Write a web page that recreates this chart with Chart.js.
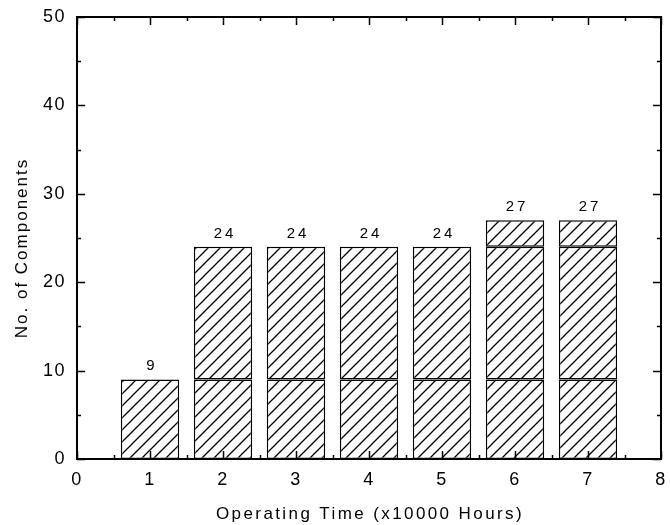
<!DOCTYPE html>
<html>
<head>
<meta charset="utf-8">
<script src="https://cdn.jsdelivr.net/npm/chart.js@4/dist/chart.umd.min.js"></script>
<style>
  html, body { margin: 0; padding: 0; background: #fff; }
  #wrap { width: 670px; height: 525px; }
</style>
</head>
<body>
<div id="wrap"><canvas id="myChart"></canvas></div>
<script>
// operating time (x10000 h) and component counts per stack segment
const times = [1, 2, 3, 4, 5, 6, 7];
const lowerPart = [9, 9, 9, 9, 9, 9, 9];
const middlePart = [null, 15, 15, 15, 15, 15, 15];
const upperPart = [null, null, null, null, null, 3, 3];
const totals = [9, 24, 24, 24, 24, 27, 27];

const xTitle = "Operating Time (x10000 Hours)";
const yTitle = "No. of Components";
const FONT = "'Liberation Sans', Arial, sans-serif";

// diagonal hatch fill
function makeHatch() {
  const size = 12;
  const c = document.createElement("canvas");
  c.width = size;
  c.height = size;
  const g = c.getContext("2d");
  g.fillStyle = "#fff";
  g.fillRect(0, 0, size, size);
  g.strokeStyle = "#000";
  g.lineWidth = 1.3;
  g.beginPath();
  g.moveTo(-2, size + 2);
  g.lineTo(size + 2, -2);
  g.moveTo(-2, 2);
  g.lineTo(2, -2);
  g.moveTo(size - 2, size + 2);
  g.lineTo(size + 2, size - 2);
  g.stroke();
  return g.createPattern(c, "repeat");
}
const hatch = makeHatch();

function toPoints(values) {
  return times.map((t, i) => ({ x: t, y: values[i] }));
}

function segment(values) {
  return {
    data: toPoints(values),
    backgroundColor: hatch,
    borderColor: "#000",
    borderWidth: 1.5,
    borderSkipped: false,
    barPercentage: 0.8,
    categoryPercentage: 1.0,
  };
}

// slightly spaced-out lettering like the original plot
const spacing = {
  id: "spacing",
  beforeDraw(chart) {
    chart.ctx.letterSpacing = "1.5px";
  },
};

// frame, inward ticks, totals and axis titles
const decorations = {
  id: "decorations",
  afterDraw(chart) {
    const ctx = chart.ctx;
    const a = chart.chartArea;
    const xs = chart.scales.x;
    const ys = chart.scales.y;
    ctx.save();
    ctx.strokeStyle = "#000";
    ctx.lineWidth = 2;
    ctx.strokeRect(a.left, a.top, a.right - a.left, a.bottom - a.top);

    ctx.lineWidth = 1.5;
    ctx.beginPath();
    for (let v = 0; v <= 8; v += 0.5) {
      const px = Math.round(xs.getPixelForValue(v)) + 0.5;
      const len = v % 1 === 0 ? 8 : 4;
      ctx.moveTo(px, a.bottom);
      ctx.lineTo(px, a.bottom - len);
      ctx.moveTo(px, a.top);
      ctx.lineTo(px, a.top + len);
    }
    for (let v = 0; v <= 50; v += 5) {
      const py = Math.round(ys.getPixelForValue(v)) + 0.5;
      const len = v % 10 === 0 ? 8 : 4;
      ctx.moveTo(a.left, py);
      ctx.lineTo(a.left + len, py);
      ctx.moveTo(a.right, py);
      ctx.lineTo(a.right - len, py);
    }
    ctx.stroke();

    ctx.fillStyle = "#000";
    ctx.textAlign = "center";
    ctx.textBaseline = "alphabetic";
    ctx.font = "15px " + FONT;
    ctx.letterSpacing = "3px";
    times.forEach((t, i) => {
      ctx.fillText(String(totals[i]), xs.getPixelForValue(t) + 2, ys.getPixelForValue(totals[i]) - 9);
    });

    ctx.font = "17px " + FONT;
    ctx.letterSpacing = "2.4px";
    ctx.fillText(xTitle, (a.left + a.right) / 2 + 1, 519);

    ctx.letterSpacing = "2px";
    ctx.translate(22, 248);
    ctx.rotate(-Math.PI / 2);
    ctx.textBaseline = "middle";
    ctx.fillText(yTitle, 0, 0);
    ctx.restore();
    ctx.letterSpacing = "0px";
  },
};

const context = document.getElementById("myChart").getContext("2d");
const config = {
  type: "bar",
  data: {
    datasets: [segment(lowerPart), segment(middlePart), segment(upperPart)],
  },
  options: {
    responsive: true,
    maintainAspectRatio: false,
    animation: false,
    layout: { padding: { left: 0, right: 9, top: 17, bottom: 0 } },
    plugins: {
      legend: { display: false },
      tooltip: { enabled: false },
    },
    scales: {
      x: {
        type: "linear",
        stacked: true,
        min: 0,
        max: 8,
        offset: false,
        grid: { display: false, drawTicks: false },
        border: { display: false },
        ticks: {
          stepSize: 1,
          padding: 10,
          color: "#000",
          font: { family: FONT, size: 18 },
          maxRotation: 0,
        },
        afterFit(scale) {
          scale.height = 66;
          scale.paddingLeft = 0;
          scale.paddingRight = 0;
        },
      },
      y: {
        stacked: true,
        min: 0,
        max: 50,
        grid: { display: false, drawTicks: false },
        border: { display: false },
        ticks: {
          stepSize: 10,
          padding: 11,
          color: "#000",
          font: { family: FONT, size: 18 },
        },
        afterFit(scale) {
          scale.width = 77;
          scale.paddingTop = 0;
          scale.paddingBottom = 0;
        },
      },
    },
  },
  plugins: [spacing, decorations],
};

const myChart = new Chart(context, config);
</script>
</body>
</html>
